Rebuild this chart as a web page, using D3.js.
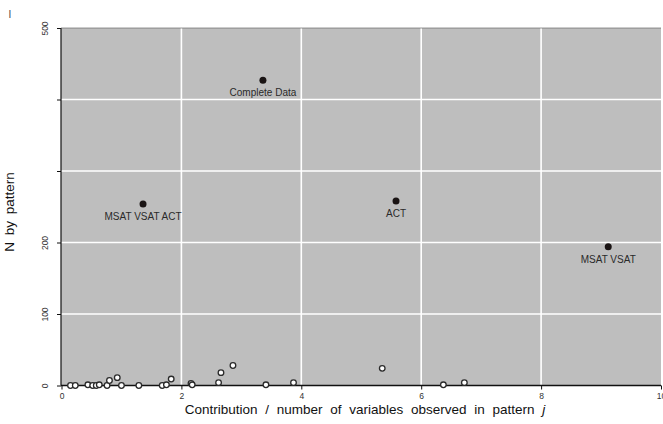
<!DOCTYPE html>
<html>
<head>
<meta charset="utf-8">
<script src="https://cdn.jsdelivr.net/npm/d3@7"></script>
<style>
body { margin: 0; background: #fff; }
text { font-family: "Liberation Sans", Arial, sans-serif; }
</style>
</head>
<body>
<script>
// open circles: the small patterns
var smallX = [0.15, 0.23, 0.44, 0.52, 0.58, 0.63, 0.76, 0.80, 0.93, 1.00, 1.29, 1.68, 1.75, 1.83,
              2.16, 2.18, 2.62, 2.66, 2.86, 3.41, 3.87, 5.35, 6.37, 6.72];
var smallN = [0, 0, 1, 0, 0, 1, 0, 7, 11, 0, 0, 0, 1, 9,
              3, 1, 4, 18, 28, 1, 4, 24, 1, 4];
// filled points, labelled
var bigNames = ['Complete Data', 'MSAT VSAT ACT', 'ACT', 'MSAT VSAT'];
var bigX = [3.36, 1.36, 5.58, 9.12];
var bigN = [427, 254, 258, 194];

var xTicks = [0, 2, 4, 6, 8, 10];
var yTicks = [0, 100, 200, 300, 400, 500];
var yLabels = {0: '0', 100: '100', 200: '200', 500: '500'};

var W = 663, H = 424;
var margin = {top: 28, right: 2, bottom: 38.5, left: 61};
var width = W - margin.left - margin.right;
var height = H - margin.top - margin.bottom;

var svg = d3.select('body').append('svg')
    .attr('width', W)
    .attr('height', H);

var g = svg.append('g')
    .attr('transform', 'translate(' + margin.left + ',' + margin.top + ')');

var xScale = d3.scaleLinear().domain([0, 10]).range([0.5, 600]);
var yScale = d3.scaleLinear().domain([0, 500]).range([height, 0]);

g.append('rect')
    .attr('width', width)
    .attr('height', height)
    .style('fill', '#bebebe');

// grid
g.selectAll('.vgrid').data(xTicks.slice(1, -1)).enter().append('line')
    .attr('x1', d => xScale(d)).attr('x2', d => xScale(d))
    .attr('y1', 0).attr('y2', height)
    .style('stroke', '#fff').style('stroke-width', 1.6);
g.selectAll('.hgrid').data(yTicks.slice(1, -1)).enter().append('line')
    .attr('y1', d => yScale(d)).attr('y2', d => yScale(d))
    .attr('x1', 0).attr('x2', width)
    .style('stroke', '#fff').style('stroke-width', 1.6);

// border lines
g.append('line').attr('x1', 0).attr('x2', 0).attr('y1', 0).attr('y2', height)
    .style('stroke', '#111').style('stroke-width', 1.2);
g.append('line').attr('x1', 0).attr('x2', width).attr('y1', height).attr('y2', height)
    .style('stroke', '#111').style('stroke-width', 1.5);
g.append('line').attr('x1', 0).attr('x2', width).attr('y1', 0).attr('y2', 0)
    .style('stroke', '#555').style('stroke-width', 0.6);

// axes
var xAxis = d3.axisBottom(xScale).tickValues(xTicks).tickSize(4).tickPadding(3).tickFormat(d3.format('d'));
var gx = g.append('g').attr('transform', 'translate(0,' + height + ')').call(xAxis);
gx.select('.domain').remove();
gx.selectAll('line').style('stroke', '#111');
gx.selectAll('text').style('font-size', '8.5px').style('fill', '#333');

var yAxis = d3.axisLeft(yScale).tickValues(yTicks).tickSize(4).tickFormat(d => yLabels[d] || '');
var gy = g.append('g').call(yAxis);
gy.select('.domain').remove();
gy.selectAll('line').style('stroke', '#111');
gy.selectAll('text')
    .style('font-size', '8.5px').style('fill', '#333')
    .attr('text-anchor', 'middle')
    .attr('transform', 'rotate(-90)')
    .attr('x', 0).attr('y', -13).attr('dy', 0);

// open points
g.selectAll('.small').data(smallX).enter().append('circle')
    .attr('cx', (d, i) => xScale(d))
    .attr('cy', (d, i) => yScale(smallN[i]))
    .attr('r', 2.8)
    .style('fill', '#fff')
    .style('stroke', '#2a2a2a')
    .style('stroke-width', 1.3);

// filled points
g.selectAll('.big').data(bigX).enter().append('circle')
    .attr('cx', d => xScale(d))
    .attr('cy', (d, i) => yScale(bigN[i]))
    .attr('r', 3.5)
    .style('fill', '#1a1414');

g.selectAll('.lab').data(bigNames).enter().append('text')
    .attr('x', (d, i) => xScale(bigX[i]))
    .attr('y', (d, i) => yScale(bigN[i]) + 16)
    .attr('text-anchor', 'middle')
    .style('font-size', '10px')
    .style('fill', '#2a2a2a')
    .text(d => d);

// axis titles
var xt = svg.append('text')
    .attr('x', 365).attr('y', 414)
    .attr('text-anchor', 'middle')
    .style('font-size', '13.5px')
    .style('word-spacing', '4px')
    .style('fill', '#111');
xt.append('tspan').text('Contribution / number of variables observed in pattern ');
xt.append('tspan').style('font-style', 'italic').text('j');

svg.append('text')
    .attr('transform', 'translate(14,212) rotate(-90)')
    .attr('text-anchor', 'middle')
    .style('font-size', '13.5px')
    .style('word-spacing', '3px')
    .style('fill', '#111')
    .text('N by pattern');

svg.append('text')
    .attr('x', 10).attr('y', 18)
    .attr('text-anchor', 'middle')
    .style('font-size', '10px')
    .style('fill', '#444')
    .text('I');
</script>
</body>
</html>
